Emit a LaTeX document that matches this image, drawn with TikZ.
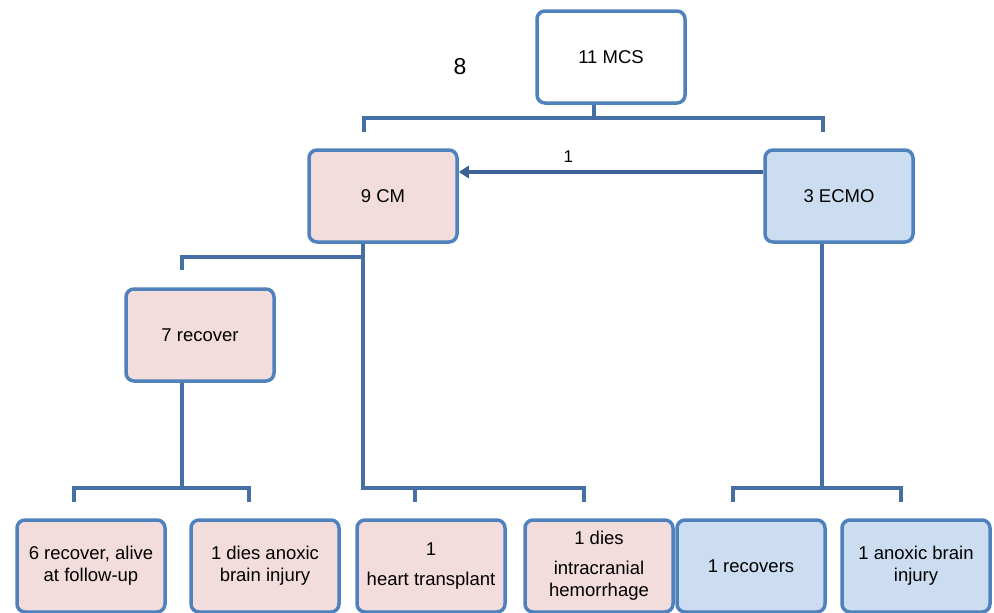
\documentclass[tikz,border=0pt]{standalone}
\usepackage{fontspec}
\setmainfont{Liberation Sans}
\usetikzlibrary{arrows.meta}
\definecolor{bordblue}{RGB}{79,129,189}
\definecolor{linkblue}{RGB}{70,112,165}
\definecolor{arrblue}{RGB}{58,98,148}
\definecolor{pinkfill}{RGB}{242,220,220}
\definecolor{bluefill}{RGB}{204,221,241}
\tikzset{
  box/.style={draw=bordblue, line width=3.5pt, rounded corners=8pt, minimum width=148pt, minimum height=92pt, align=center, font=\fontsize{18.5}{22}\selectfont, inner sep=1pt},
  pinkbox/.style={box, fill=pinkfill},
  bluebox/.style={box, fill=bluefill},
  whitebox/.style={box, fill=white},
  link/.style={draw=linkblue, line width=3.5pt},
}
\begin{document}
\begin{tikzpicture}[x=1pt,y=-1pt]
\useasboundingbox (0,0) rectangle (994,613);
\clip (0,0) rectangle (994,613);
% nodes
\node[whitebox] (mcs) at (611,57) {11 MCS};
\node[font=\fontsize{23}{26}\selectfont] (eight) at (460,67) {8};
\node[pinkbox] (cm) at (383,196) {9 CM};
\node[bluebox] (ecmo) at (839,196) {3 ECMO};
\node[pinkbox] (rec7) at (200,335) {7 recover};
\node[pinkbox] (b1) at (91,566) {6 recover, alive\\at follow-up};
\node[pinkbox] (b2) at (265,566) {1 dies anoxic\\brain injury};
\node[pinkbox] (b3) at (431,566) {1\\[8pt]heart transplant};
\node[pinkbox] (b4) at (599,566) {1 dies\\[8pt]intracranial\\hemorrhage};
\node[bluebox] (b5) at (751,566) {1 recovers};
\node[bluebox] (b6) at (916,566) {1 anoxic brain\\injury};
% coordinates for connectors
\coordinate (t0) at (594,118);
\coordinate (tl) at (364,118);
\coordinate (tr) at (823,118);
\coordinate (tld) at (364,132);
\coordinate (trd) at (823,132);
\coordinate (c0) at (363,257);
\coordinate (cl) at (182,257);
\coordinate (cld) at (182,270);
\coordinate (cb) at (363,488);
\coordinate (cbr) at (584,488);
\coordinate (cbm) at (415,488);
\coordinate (cbmd) at (415,502);
\coordinate (cbrd) at (584,502);
\coordinate (r0) at (182,488);
\coordinate (rl) at (74,488);
\coordinate (rr) at (249,488);
\coordinate (rld) at (74,502);
\coordinate (rrd) at (249,502);
\coordinate (e0) at (822,488);
\coordinate (el) at (733,488);
\coordinate (er) at (901,488);
\coordinate (eld) at (733,502);
\coordinate (erd) at (901,502);
% connectors
\draw[link] (mcs.south -| t0) -- (t0);
\draw[link, line join=miter] (tld) -- (tl) -- (tr) -- (trd);
\draw[link, line join=miter] (cm.south -| c0) -- (cb) -- (cbr) -- (cbrd);
\draw[link] (cbm) -- (cbmd);
\draw[link, line join=miter] (c0) -- (cl) -- (cld);
\draw[link] (rec7.south -| r0) -- (r0);
\draw[link, line join=miter] (rld) -- (rl) -- (rr) -- (rrd);
\draw[link] (ecmo.south -| e0) -- (e0);
\draw[link, line join=miter] (eld) -- (el) -- (er) -- (erd);
% arrow ECMO -> CM
\draw[draw=arrblue, line width=3.5pt, -{Triangle[length=10pt,width=12pt]}] (ecmo.west |- 0,172) -- (cm.east |- 0,172) node[pos=0.64, above=4pt, font=\fontsize{17}{20}\selectfont, text=black] (one) {1};
\end{tikzpicture}
\end{document}
